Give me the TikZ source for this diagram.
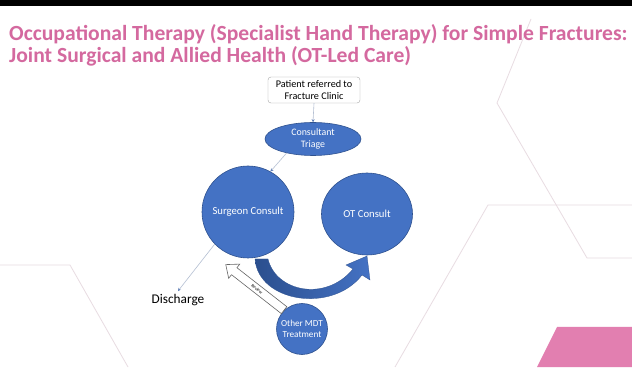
\documentclass[tikz,border=0pt]{standalone}
\usepackage{fontspec}
\setmainfont{Carlito}
\usetikzlibrary{shapes.geometric,shapes.arrows,arrows.meta}
\definecolor{titlepink}{HTML}{D4699F}
\definecolor{accentpink}{HTML}{E27FB0}
\definecolor{hexline}{HTML}{E8DCE2}
\definecolor{nodeblue}{HTML}{4472C4}
\definecolor{nodeedge}{HTML}{2F528F}
\definecolor{darkblue}{HTML}{2B4F8E}
\definecolor{connline}{HTML}{B4BFD2}
\definecolor{conntip}{HTML}{5B7BB5}
\tikzset{
  bluenode/.style={fill=nodeblue, draw=nodeedge, line width=0.6pt, text=white, align=center, inner sep=1pt},
  conn/.style={draw=connline, line width=0.6pt, -{Stealth[length=3pt,width=3pt,color=conntip]}},
  hex/.style={draw=hexline, line width=0.8pt},
  titletext/.style={anchor=base west, text=titlepink, font=\fontsize{21.6}{24}\selectfont\bfseries, inner sep=0},
}
\begin{document}
\begin{tikzpicture}[x=1pt,y=-1pt]
\useasboundingbox (0,0) rectangle (632,379);
% slide background and top band
\fill[white] (0,0) rectangle (632,379);
\fill[black] (0,0) rectangle (632,6);

% decorative hexagon outlines
\draw[hex] (531,19) -- (497,103) -- (587,258) -- (632,258);
\draw[hex] (632,205) -- (488,205) -- (395,367);
\draw[hex] (0,265) -- (70,265) -- (128,367);
\fill[accentpink] (537,367) -- (557,327) -- (632,327) -- (632,367) -- cycle;

% title
\node[titletext] (title1) at (9,41)
  {Occupational Therapy (Specialist Hand Therapy) for Simple Fractures:};
\node[titletext] (title2) at (9,63)
  {Joint Surgical and Allied Health (OT-Led Care)};

% flow nodes
\node[draw=gray!70, rounded corners=3pt, fill=white, align=center, minimum width=92pt, minimum height=26pt,
      inner sep=1pt, font=\fontsize{10.2}{12.5}\selectfont] (patient) at (314,90)
  {Patient referred to\\Fracture Clinic};
\node[bluenode, ellipse, minimum width=96pt, minimum height=33pt, font=\fontsize{9.9}{12}\selectfont] (triage) at (313,139)
  {Consultant\\Triage};
\node[bluenode, circle, minimum size=92pt, font=\fontsize{10.7}{12}\selectfont] (surgeon) at (248,212) {Surgeon Consult};
\node[bluenode, ellipse, minimum width=91pt, minimum height=82pt, font=\fontsize{10.7}{12}\selectfont] (ot) at (367,214) {OT Consult};
\node[bluenode, circle, minimum size=51pt, font=\fontsize{9.2}{11.5}\selectfont] (mdt) at (302,329) {Other MDT\\Treatment};
\node[font=\fontsize{13.3}{15}\selectfont, inner sep=3pt] (discharge) at (178,300) {Discharge};

% connectors
\draw[conn] (patient.south) -- (triage.north);
\draw[conn] (triage.208) -- (surgeon.61);
\draw[conn] (surgeon.224) -- (discharge.north);

% curved block arrow from surgeon consult to OT consult
\path[left color=darkblue, right color=nodeblue, draw=nodeedge, line width=0.3pt]
  (255,259) .. controls (258,302) and (332,314) .. (362,275)
  -- (370,280) -- (367,256) -- (346,265) -- (353,269)
  .. controls (326,302) and (276,292) .. (268,259) -- cycle;

% review arrow from other treatment back to surgeon consult
\node[single arrow, draw=gray!80!black, fill=white, line width=0.6pt, rotate=-38, shape border rotate=180,
      minimum height=74pt, minimum width=18pt, single arrow head extend=4pt, single arrow tip angle=80,
      inner sep=2pt, font=\fontsize{4.5}{5}\selectfont] (review) at (257,289) {Review};
\end{tikzpicture}
\end{document}
